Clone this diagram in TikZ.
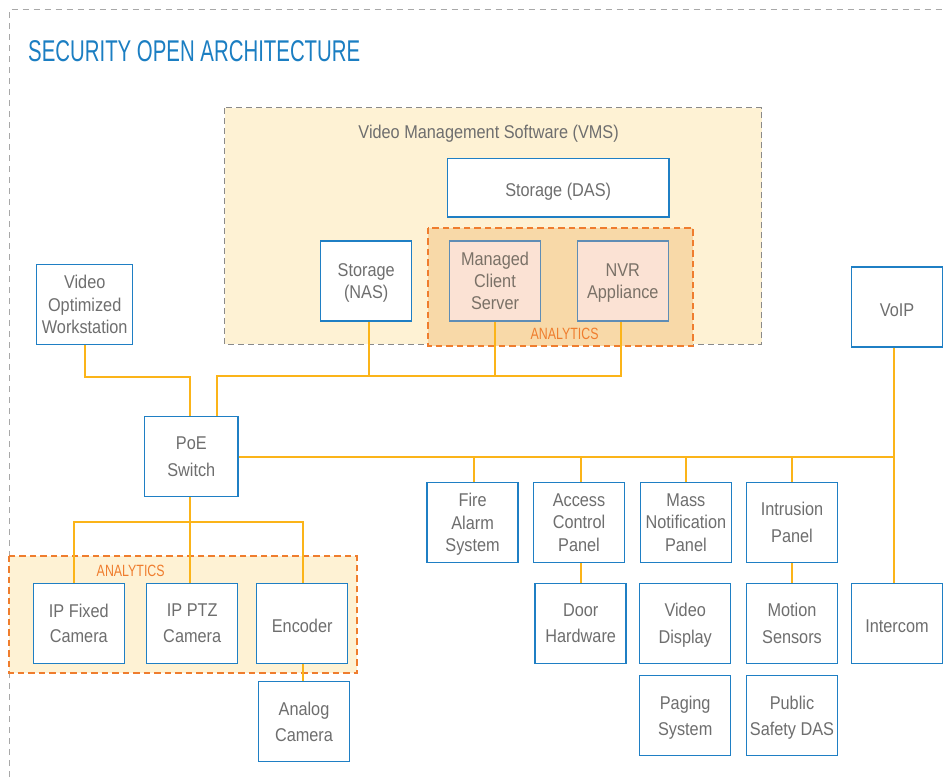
\documentclass[tikz,border=0pt]{standalone}
\usepackage{fontspec}
\setmainfont{Liberation Sans}[FakeStretch=0.88]
\newfontfamily\titlefont{Liberation Sans}[FakeStretch=0.68]
\newfontfamily\capfont{Liberation Sans}[FakeStretch=0.76]
\definecolor{boxblue}{HTML}{1F7FC4}
\definecolor{txtgrey}{HTML}{6E6E6E}
\definecolor{titleblue}{HTML}{1B7EC2}
\definecolor{connc}{HTML}{FBB419}
\definecolor{anorange}{HTML}{EF7D2E}
\definecolor{cream}{HTML}{FEF2D4}
\definecolor{tan}{HTML}{F8D9A8}
\definecolor{pinkfill}{HTML}{FBE2D4}
\definecolor{steel}{HTML}{5F8DB5}
\definecolor{dashgrey}{HTML}{8A8A8A}
\definecolor{outgrey}{HTML}{A8A8A8}
\tikzset{
  box/.style={draw=boxblue, line width=1.5pt, fill=white, minimum width=91pt,
    minimum height=80pt, inner sep=0pt, align=center, text=txtgrey, text depth=-3pt},
  single/.style={execute at begin node={\rule{0pt}{18pt}}},
  tthree/.style={font={\fontsize{18.5}{22.4}\selectfont}},
  ttwo/.style={font={\fontsize{18.5}{26.5}\selectfont}},
  ttight/.style={font={\fontsize{18.5}{21.7}\selectfont}},
  pinkbox/.style={box, draw=steel, fill=pinkfill, text=txtgrey!85!brown},
  conn/.style={draw=connc, line width=2pt},
  vmsregion/.style={draw=dashgrey, line width=1.2pt, dash pattern=on 6pt off 4pt, fill=cream},
  anregion/.style={draw=anorange, line width=2pt, dash pattern=on 6.5pt off 4pt},
  anlabel/.style={text=anorange, font={\capfont\fontsize{16.3}{20}\selectfont}, inner sep=0pt},
}
\begin{document}
\begin{tikzpicture}[x=1pt, y=-1pt]
\useasboundingbox (0,0) rectangle (943,777);
% outer dashed frame
\draw[outgrey, line width=1.3pt, dash pattern=on 6pt off 5pt] (9.3,777) -- (9.3,9.3) -- (943,9.3);
\node[anchor=base west, inner sep=0pt, text=titleblue, font={\titlefont\fontsize{30}{36}\selectfont}] (title) at (28,61) {SECURITY OPEN ARCHITECTURE};

% regions
\path[vmsregion] (224.5,107.8) rectangle (761.7,344.3);
\path[anregion, fill=tan] (428.2,227.7) rectangle (693.2,346);
\path[anregion, fill=cream] (9.3,555.7) rectangle (356.7,673.3);
\node[text=txtgrey, inner sep=0pt, font={\fontsize{18.5}{22}\selectfont}] (vmslabel) at (488.6,133.3) {Video Management Software (VMS)};
\node[anlabel] (antop) at (564.6,334.3) {ANALYTICS};
\node[anlabel] (anbot) at (130.7,571) {ANALYTICS};

% nodes
\node[box, tthree, minimum width=96pt] (ws) at (84.7,304.3) {Video\\Optimized\\Workstation};
\node[box, ttwo, minimum width=93.3pt] (poe) at (191.3,456.7) {PoE\\Switch};
\node[box, ttight] (nas) at (366.2,280.8) {Storage\\(NAS)};
\node[box, ttwo, single, minimum width=221.5pt, minimum height=58.3pt] (das) at (558.2,187.8) {Storage (DAS)};
\node[pinkbox, tthree] (mcs) at (495,280.8) {Managed\\Client\\Server};
\node[pinkbox, ttight] (nvr) at (622.8,280.8) {NVR\\Appliance};
\node[box, ttwo, single] (voip) at (897,307) {VoIP};

\node[box, tthree] (fire) at (472.6,522.3) {Fire\\Alarm\\System};
\node[box, tthree] (acp) at (579,522.3) {Access\\Control\\Panel};
\node[box, tthree] (mnp) at (685.9,522.3) {Mass\\Notification\\Panel};
\node[box, ttwo] (intr) at (792,522.3) {Intrusion\\Panel};
\node[box, ttwo] (door) at (580.7,623.3) {Door\\Hardware};
\node[box, ttwo] (vdisp) at (685.2,623.3) {Video\\Display};
\node[box, ttwo] (motion) at (792,623.3) {Motion\\Sensors};
\node[box, ttwo, single] (icom) at (897,623.3) {Intercom};
\node[box, ttwo] (paging) at (685.2,715.7) {Paging\\System};
\node[box, ttwo] (psdas) at (792,715.7) {Public\\Safety DAS};

\node[box, ttwo, font={\fontsize{18.5}{25.7}\selectfont}] (ipfixed) at (78.8,623.3) {IP Fixed\\Camera};
\node[box, ttwo, font={\fontsize{18.5}{25.7}\selectfont}] (ipptz) at (192.2,623.3) {IP PTZ\\Camera};
\node[box, ttwo, single] (enc) at (302.2,623.3) {Encoder};
\node[box, ttwo, font={\fontsize{18.5}{25.7}\selectfont}] (analog) at (304,721.7) {Analog\\Camera};

% bus coordinates
\coordinate (topbus) at (400,376);
\coordinate (wsbend) at (150,377);
\coordinate (mainbus) at (894,456.7);
\coordinate (cambus) at (190.3,521.7);

% connectors
\draw[conn] (ws.south) |- (wsbend) -| ([xshift=-1pt]poe.north);
\draw[conn] ([xshift=26pt]poe.north) |- (topbus) -| ([xshift=-2pt]nvr.south);
\draw[conn] ([xshift=2.4pt]nas.south) -- ([xshift=2.4pt]nas.south |- topbus);
\draw[conn] (mcs.south) -- (mcs.south |- topbus);

\draw[conn] (poe.east) -- (mainbus);
\draw[conn] ([xshift=-3pt]voip.south) -- ([xshift=-3pt]icom.north);
\draw[conn] ([xshift=1.4pt]fire.north) -- ([xshift=1.4pt]fire.north |- mainbus);
\draw[conn] ([xshift=1.7pt]acp.north) -- ([xshift=1.7pt]acp.north |- mainbus);
\draw[conn] (mnp.north) -- (mnp.north |- mainbus);
\draw[conn] (intr.north) -- (intr.north |- mainbus);
\draw[conn] (door.north |- acp.south) -- (door.north);
\draw[conn] (intr.south) -- (motion.north);

\draw[conn] ([xshift=-1pt]poe.south) -- (cambus);
\draw[conn] ([xshift=-4.8pt]ipfixed.north) |- (cambus) -| ([xshift=1.1pt]enc.north);
\draw[conn] ([xshift=-1.9pt]ipptz.north) -- ([xshift=-1.9pt]ipptz.north |- cambus);
\draw[conn] ([xshift=1.1pt]enc.south) -- ([xshift=1.1pt]enc.south |- analog.north);
\end{tikzpicture}
\end{document}
